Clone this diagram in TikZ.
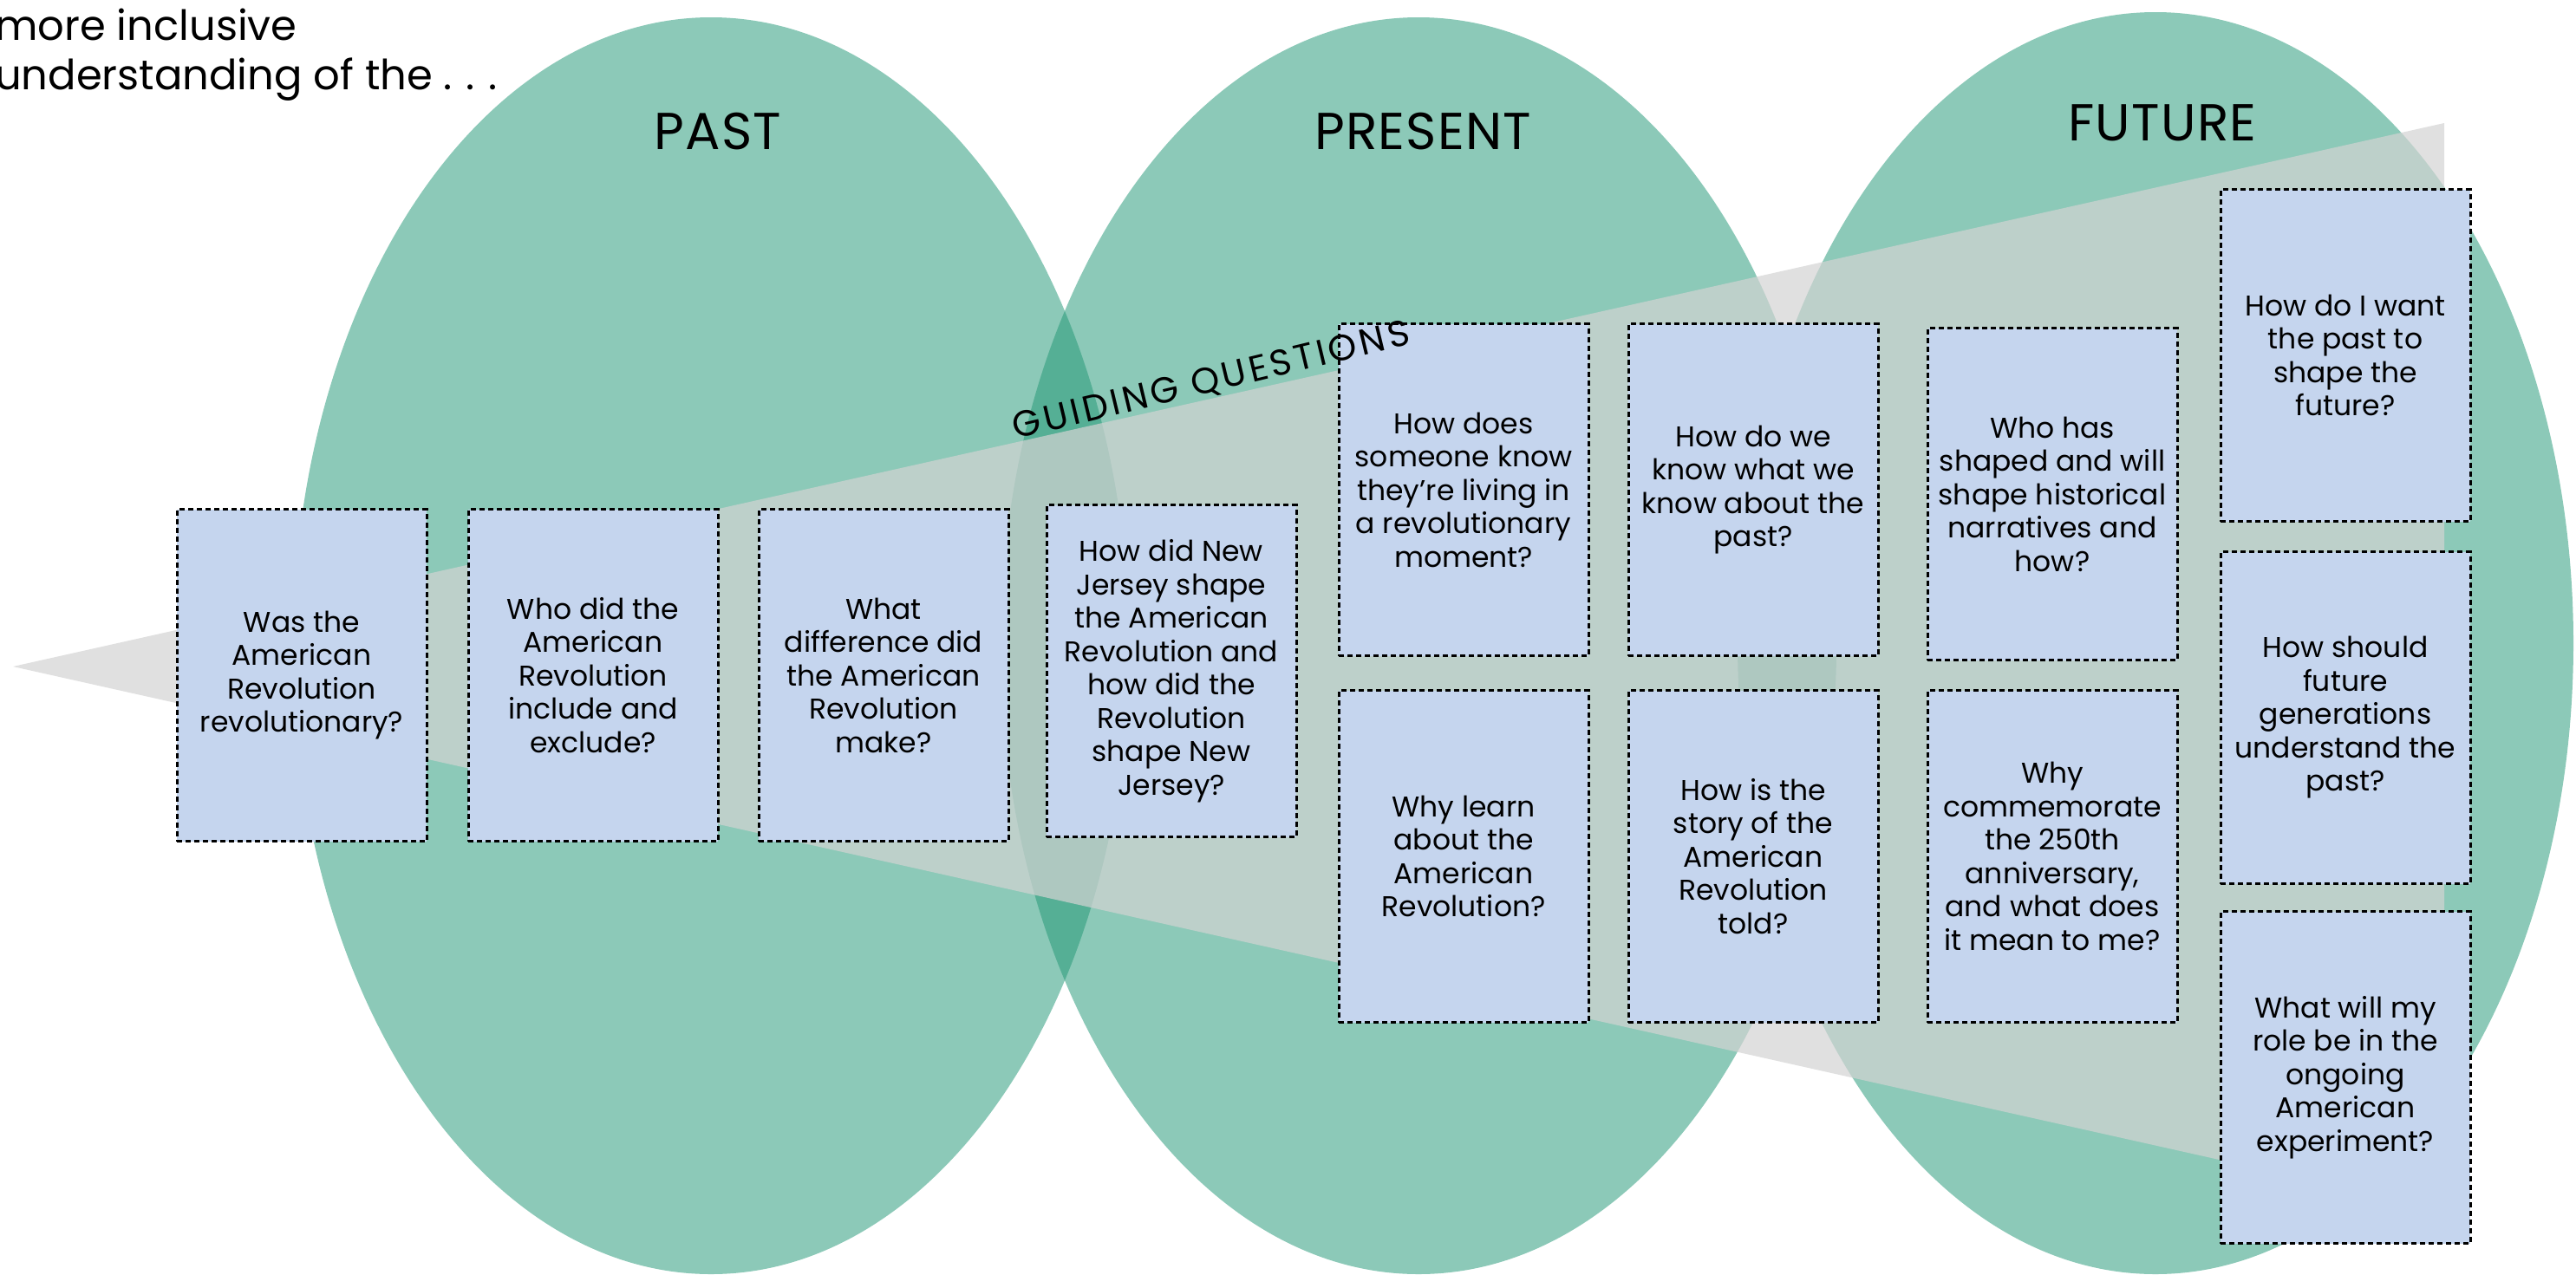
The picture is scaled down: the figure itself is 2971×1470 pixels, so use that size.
\documentclass[tikz,border=0pt]{standalone}
\usepackage{fontspec}
\setmainfont{Poppins}
\definecolor{ellgreen}{RGB}{35,151,118}
\definecolor{trigray}{RGB}{211,211,211}
\definecolor{boxblue}{RGB}{197,213,238}
\begin{document}
\begin{tikzpicture}[x=1pt,y=-1pt,
  ell/.style={fill=ellgreen, fill opacity=0.52},
  qbox/.style={draw=black, line width=3pt, dash pattern=on 6pt off 4pt, fill=boxblue,
    minimum width=288pt, minimum height=383pt, inner sep=0pt, align=center,
    font=\fontsize{33}{38.5}\selectfont},
  lab/.style={font=\fontsize{60}{66}\selectfont\addfontfeatures{LetterSpace=2}, inner sep=0pt},
  intro/.style={font=\fontsize{48}{57}\selectfont, inner sep=0pt, anchor=base west}]
\useasboundingbox (0,0) rectangle (2971,1470);
% ellipses
\fill[ell] (820,745) ellipse [x radius=482pt, y radius=725pt];
\fill[ell] (1636,745) ellipse [x radius=482pt, y radius=725pt];
\fill[ell] (2486,742) ellipse [x radius=482pt, y radius=728pt];
% triangle
\fill[trigray, fill opacity=0.71] (15,769) -- (2819,142) -- (2819,1396) -- cycle;
% labels
\node[lab] (past) at (828,152) {PAST};
\node[lab] (present) at (1641,152) {PRESENT};
\node[lab] (future) at (2494,142) {FUTURE};
\node[intro] (intro1) at (-6,46) {more inclusive};
\node[intro] (intro2) at (-6,103) {understanding of the .\,\,.\,\,.};
% boxes
\node[qbox] (b1) at (348,779) {Was the\\American\\Revolution\\revolutionary?};
\node[qbox] (b2) at (684,779) {Who did the\\American\\Revolution\\include and\\exclude?};
\node[qbox] (b3) at (1019,779) {What\\difference did\\the American\\Revolution\\make?};
\node[qbox] (b4) at (1351,774) {How did New\\Jersey shape\\the American\\Revolution and\\how did the\\Revolution\\shape New\\Jersey?};
\node[qbox] (b5) at (1688,565) {How does\\someone know\\they’re living in\\a revolutionary\\moment?};
\node[qbox] (b6) at (1688,988) {Why learn\\about the\\American\\Revolution?};
\node[qbox] (b7) at (2022,565) {How do we\\know what we\\know about the\\past?};
\node[qbox] (b8) at (2022,988) {How is the\\story of the\\American\\Revolution\\told?};
\node[qbox] (b9) at (2367,570) {Who has\\shaped and will\\shape historical\\narratives and\\how?};
\node[qbox] (b10) at (2367,988) {Why\\commemorate\\the 250th\\anniversary,\\and what does\\it mean to me?};
\node[qbox] (b11) at (2705,410) {How do I want\\the past to\\shape the\\future?};
\node[qbox] (b12) at (2705,828) {How should\\future\\generations\\understand the\\past?};
\node[qbox] (b13) at (2705,1243) {What will my\\role be in the\\ongoing\\American\\experiment?};
% guiding questions label, drawn over the boxes
\node[font=\fontsize{42}{48}\selectfont\addfontfeatures{LetterSpace=9}, inner sep=0pt, rotate=13.5] (gq) at (1397,440) {GUIDING QUESTIONS};
\end{tikzpicture}
\end{document}
